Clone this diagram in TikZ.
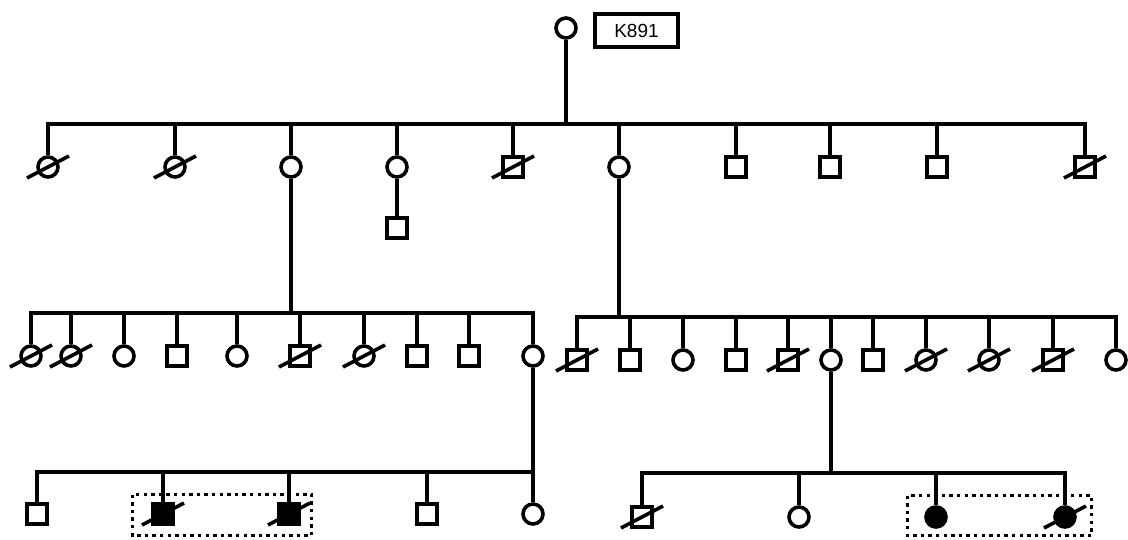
\documentclass[tikz,border=0pt]{standalone}
\usepackage{fontspec}
\setmainfont{Liberation Sans}
\begin{document}
\begin{tikzpicture}[x=1pt,y=-1pt,
  lw/.style={line width=3.6pt},
  male/.style={draw, lw, rectangle, minimum size=19.5pt, inner sep=0pt, fill=white},
  female/.style={draw, lw, circle, minimum size=20pt, inner sep=0pt, fill=white},
  aff/.style={fill=black},
  link/.style={lw},
  dotbox/.style={line width=3.3pt, dash pattern=on 3.4pt off 4.2pt},
  idbox/.style={draw, lw, rectangle, minimum width=83pt, minimum height=33pt, inner sep=0pt, font=\fontsize{19}{22}\selectfont}
]
\useasboundingbox (0,0) rectangle (1128,539);
\newcommand\deadmark[1]{\draw[lw] (#1) ++(-21,11) -- ++(42,-22);}
\newcommand\kidline[2]{\draw[link] (#1.north) -- (#1.north |- #2);}

% dotted boxes (behind)
\draw[dotbox] (132.5,494.5) rectangle (311.5,535.5);
\draw[dotbox] (907.5,495.5) rectangle (1091.5,535.5);

% Generation I
\node[female] (F) at (566,28) {};
\node[idbox] (id) at (636.5,30.5) {K891};
\coordinate (s2) at (566,124);

% Generation II
\node[female] (a) at (48,167) {};
\node[female] (b) at (175,167) {};
\node[female] (c) at (291,167) {};
\node[female] (d) at (397,167) {};
\node[male]   (e) at (513,167) {};
\node[female] (f) at (619,167) {};
\node[male]   (g) at (736,167) {};
\node[male]   (h) at (830,167) {};
\node[male]   (i) at (937,167) {};
\node[male]   (j) at (1085,167) {};
\node[male]   (d1) at (397,228) {};

\draw[link] (F.south) -- (s2);
\draw[link] (a.north) |- (s2) -| (j.north);
\foreach \n in {b,c,d,e,f,g,h,i} {\kidline{\n}{s2}}
\draw[link] (d.south) -- (d1.north);

% Generation III left
\coordinate (s3a) at (291,313);
\node[female] (la) at (31,356) {};
\node[female] (lb) at (71,356) {};
\node[female] (lc) at (124,356) {};
\node[male]   (ld) at (177,356) {};
\node[female] (le) at (237,356) {};
\node[male]   (lf) at (300,356) {};
\node[female] (lg) at (364,356) {};
\node[male]   (lh) at (417,356) {};
\node[male]   (li) at (469,356) {};
\node[female] (lj) at (533,356) {};
\draw[link] (c.south) -- (s3a);
\draw[link] (la.north) |- (s3a) -| (lj.north);
\foreach \n in {lb,lc,ld,le,lf,lg,lh,li} {\kidline{\n}{s3a}}

% Generation III right
\coordinate (s3b) at (619,317);
\node[male]   (ra) at (577,360) {};
\node[male]   (rb) at (630,360) {};
\node[female] (rc) at (683,360) {};
\node[male]   (rd) at (736,360) {};
\node[male]   (re) at (788,360) {};
\node[female] (rf) at (831,360) {};
\node[male]   (rg) at (873,360) {};
\node[female] (rh) at (926,360) {};
\node[female] (ri) at (989,360) {};
\node[male]   (rj) at (1053,360) {};
\node[female] (rk) at (1116,360) {};
\draw[link] (f.south) -- (s3b);
\draw[link] (ra.north) |- (s3b) -| (rk.north);
\foreach \n in {rb,rc,rd,re,rf,rg,rh,ri,rj} {\kidline{\n}{s3b}}

% Generation IV left
\coordinate (s4a) at (533,472);
\node[male]        (ua) at (37,514) {};
\node[male,aff]    (ub) at (163,514) {};
\node[male,aff]    (uc) at (289,514) {};
\node[male]        (ud) at (427,514) {};
\node[female]      (ue) at (533,514) {};
\draw[link] (lj.south) -- (s4a);
\draw[link] (ua.north) |- (s4a) -- (ue.north);
\foreach \n in {ub,uc,ud} {\kidline{\n}{s4a}}

% Generation IV right
\coordinate (s4b) at (831,473);
\node[male]        (va) at (642,517) {};
\node[female]      (vb) at (799,517) {};
\node[female,aff]  (vc) at (936,517) {};
\node[female,aff]  (vd) at (1065,517) {};
\draw[link] (rf.south) -- (s4b);
\draw[link] (va.north) |- (s4b) -| (vd.north);
\foreach \n in {vb,vc} {\kidline{\n}{s4b}}

% deceased marks
\foreach \n in {a,b,e,j,la,lb,lf,lg,ra,re,rh,ri,rj,ub,uc,va,vd} {\deadmark{\n}}
\end{tikzpicture}
\end{document}
